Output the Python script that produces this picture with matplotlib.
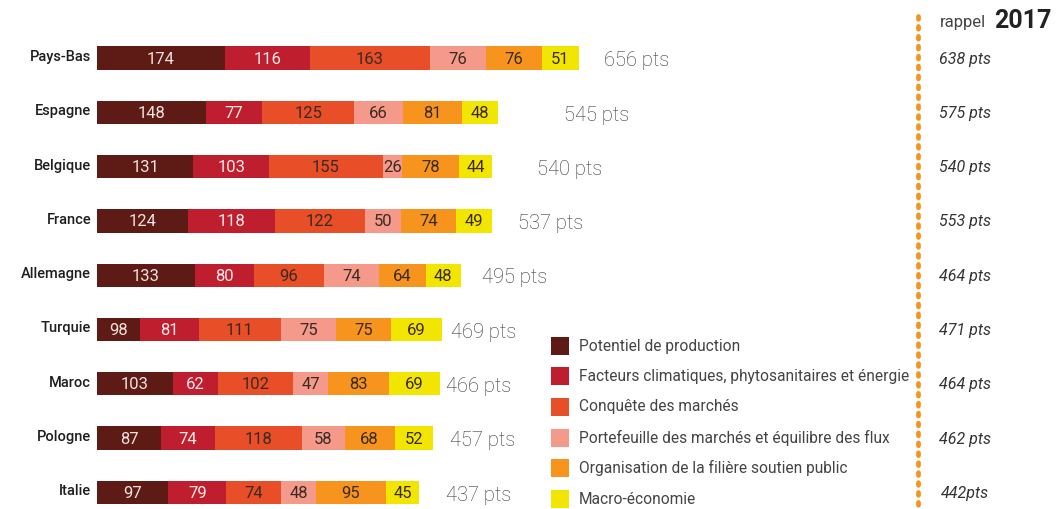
import matplotlib
matplotlib.use("Agg")
import matplotlib.pyplot as plt
from matplotlib.patches import Rectangle
import numpy as np

countries = ["Pays-Bas", "Espagne", "Belgique", "France", "Allemagne",
             "Turquie", "Maroc", "Pologne", "Italie"]
series_names = ["Potentiel de production",
                "Facteurs climatiques, phytosanitaires et énergie",
                "Conquête des marchés",
                "Portefeuille des marchés et équilibre des flux",
                "Organisation de la filière soutien public",
                "Macro-économie"]
# Turquie's first segment is drawn 58 long (matching its 469 total) but printed "98"
potentiel = [174, 148, 131, 124, 133, 58, 103, 87, 97]
potentiel_printed = ["174", "148", "131", "124", "133", "98", "103", "87", "97"]
facteurs = [116, 77, 103, 118, 80, 81, 62, 74, 79]
conquete = [163, 125, 155, 122, 96, 111, 102, 118, 74]
portefeuille = [76, 66, 26, 50, 74, 75, 47, 58, 48]
organisation = [76, 81, 78, 74, 64, 75, 83, 68, 95]
macro = [51, 48, 44, 49, 48, 69, 69, 52, 45]
totals = [656, 545, 540, 537, 495, 469, 466, 457, 437]
rappel_2017 = ["638 pts", "575 pts", "540 pts", "553 pts", "464 pts",
               "471 pts", "464 pts", "462 pts", "442pts"]

# layout: gap (pixels) between bar end and total label, as in the original
total_gap_px = [25, 66, 43, 26, 21, 9, 6, 17, 28]

colors = ["#5E1A14", "#BE1E2D", "#E84E27", "#F59A8A", "#F7941D", "#F2E500"]
text_colors = ["#EFE2DE", "#FBEAEA", "#3A2A22", "#3A2A22", "#3A2A22", "#3A2A22"]

W, H = 1058, 509
fig = plt.figure(figsize=(W / 100, H / 100), dpi=100)
px_per_pt = 0.735
x0 = 97
ax = fig.add_axes([x0 / W, 0, 1 - x0 / W, 1])
ax.set_xlim(0, (W - x0) / px_per_pt)
row = 54.3
y_first = 58
ax.set_ylim((H - y_first) / row, -y_first / row)
ax.axis("off")

font_num = ["Roboto", "DejaVu Sans"]
data = [potentiel, facteurs, conquete, portefeuille, organisation, macro]
y = np.arange(len(countries))
left = np.zeros(len(countries))
for k, vals in enumerate(data):
    vals = np.array(vals, dtype=float)
    ax.barh(y, vals, left=left, height=0.43, color=colors[k], linewidth=0)
    for i, v in enumerate(vals):
        label = potentiel_printed[i] if k == 0 else f"{int(v)}"
        ax.text(left[i] + v / 2, y[i] + 0.02, label, ha="center", va="center",
                fontsize=12, color=text_colors[k], family=font_num)
    left += vals

for i, c in enumerate(countries):
    ax.text(-6 / px_per_pt, y[i] - 0.02, c, ha="right", va="center", fontsize=10.5,
            color="#1E1E1E", family=font_num, fontweight="medium")
    ax.text(totals[i] + total_gap_px[i] / px_per_pt, y[i] + 0.05, f"{totals[i]} pts",
            ha="left", va="center", fontsize=14.5, color="#333333", family=font_num,
            fontweight="light")
    ax.text((965 - x0) / px_per_pt, y[i] + 0.02, rappel_2017[i], ha="center",
            va="center", fontsize=11.5, color="#333333", family=font_num,
            style="italic")

# dotted orange vertical separator
ax.plot([(918 - x0) / px_per_pt] * 2, [(16 - y_first) / row, (H - y_first) / row],
        color="#F7941D", linestyle=(0, (0.6, 1.5)), linewidth=3.4,
        dash_capstyle="round")

fig.text(940 / W, 1 - 23 / H, "rappel", ha="left", va="center", fontsize=12,
         color="#444444", family=font_num)
fig.text(994 / W, 1 - 21 / H, "2017", ha="left", va="center", fontsize=18,
         color="#222222", family=font_num, fontweight="bold")

# legend
leg_y = [346, 376, 407, 438, 468, 499]
for k, name in enumerate(series_names):
    fig.add_artist(Rectangle((551 / W, 1 - (leg_y[k] + 9) / H), 18 / W, 18 / H,
                             transform=fig.transFigure, color=colors[k], linewidth=0))
    fig.text(579 / W, 1 - leg_y[k] / H, name, ha="left", va="center", fontsize=11.2,
             color="#444444", family=font_num)

fig.savefig("out.png", dpi=100)
